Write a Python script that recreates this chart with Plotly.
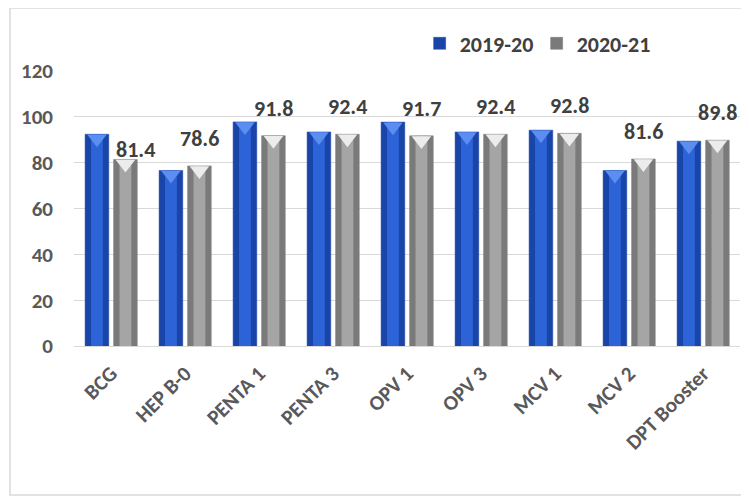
import plotly.graph_objects as go

categories = ["BCG", "HEP B-0", "PENTA 1", "PENTA 3", "OPV 1", "OPV 3", "MCV 1", "MCV 2", "DPT Booster"]
values_2019_20 = [92.4, 76.6, 97.8, 93.4, 97.7, 93.4, 94.2, 76.6, 89.4]
values_2020_21 = [81.4, 78.6, 91.8, 92.4, 91.7, 92.4, 92.8, 81.6, 89.8]
series_names = ["2019-20", "2020-21"]
y_ticks = [0, 20, 40, 60, 80, 100, 120]

FONT = "Carlito, 'Liberation Sans Narrow', 'Open Sans', sans-serif"
TXT = "#404040"

x_idx = list(range(len(categories)))
BAR_W = 0.32
OFF_A = -0.35
OFF_B = 0.035
centre_a = [i + OFF_A + BAR_W / 2 for i in x_idx]
centre_b = [i + OFF_B + BAR_W / 2 for i in x_idx]

fig = go.Figure()

styles = [
    (values_2019_20, OFF_A, centre_a, "#1a45a8", "#2c63d6", "#5b8ef0", series_names[0]),
    (values_2020_21, OFF_B, centre_b, "#7a7a7a", "#a5a5a5", "#ececec", series_names[1]),
]
for vals, off, cen, dark, light, cap, name in styles:
    fig.add_trace(go.Bar(x=x_idx, y=vals, width=BAR_W, offset=off, name=name,
                         marker=dict(color=dark, line=dict(color=dark, width=0.5)),
                         showlegend=True, hoverinfo="skip"))
    fig.add_trace(go.Bar(x=cen, y=vals, width=BAR_W * 0.5, offset=-BAR_W * 0.25,
                         marker=dict(color=light, line=dict(width=0)),
                         showlegend=False, hoverinfo="skip"))
    fig.add_trace(go.Scatter(x=cen, y=[v - 2.0 for v in vals], mode="markers",
                             marker=dict(symbol="triangle-down", size=17, color=cap,
                                         line=dict(width=0)),
                             showlegend=False, hoverinfo="skip", cliponaxis=False))

label_shift = {0: (10, -6)}
for i, v in enumerate(values_2020_21):
    xs, ys = label_shift.get(i, (0, 12))
    fig.add_annotation(x=centre_b[i], y=v, text=f"{v:.1f}", showarrow=False,
                       xanchor="center", yanchor="bottom", xshift=xs, yshift=ys,
                       font=dict(family=FONT, size=22, color=TXT, weight="bold"))

# page body has an 8px margin: figure is drawn at (8, 8) in the window
W, H = 741, 493
L, T, R, B = 66, 63, 9, 155
PW, PH = W - L - R, H - T - B

fig.update_layout(
    width=W, height=H,
    margin=dict(l=L, r=R, t=T, b=B),
    paper_bgcolor="white", plot_bgcolor="white",
    barmode="overlay",
    font=dict(family=FONT, color=TXT, weight="bold"),
    legend=dict(orientation="h", x=0.519, y=1.10, xanchor="left", yanchor="middle",
                font=dict(family=FONT, size=22, color=TXT, weight="bold"),
                bgcolor="rgba(0,0,0,0)", traceorder="normal",
                entrywidth=72, entrywidthmode="pixels"),
    xaxis=dict(range=[-0.5, len(categories) - 0.5], tickvals=x_idx, ticktext=categories,
               tickangle=-45, showgrid=False, showline=True, linecolor="#d9d9d9",
               linewidth=1, ticks="", ticklabelstandoff=6,
               tickfont=dict(family=FONT, size=21, color="#595959", weight="bold")),
    yaxis=dict(range=[0, 120], tickvals=y_ticks, showgrid=True, gridcolor="#d9d9d9",
               gridwidth=1, zeroline=False, showline=False, ticks="",
               tickfont=dict(family=FONT, size=21, color="#595959", weight="bold"),
               ticklabelstandoff=20),
    shapes=[dict(type="rect", xref="paper", yref="paper",
                 x0=(2 - L) / PW, x1=(735 - L) / PW,
                 y0=(PH + T - 487) / PH, y1=(PH + T - 0) / PH,
                 line=dict(color="#d9d9d9", width=1.5), fillcolor="rgba(0,0,0,0)",
                 layer="below")],
)

fig.write_html("out.html")
